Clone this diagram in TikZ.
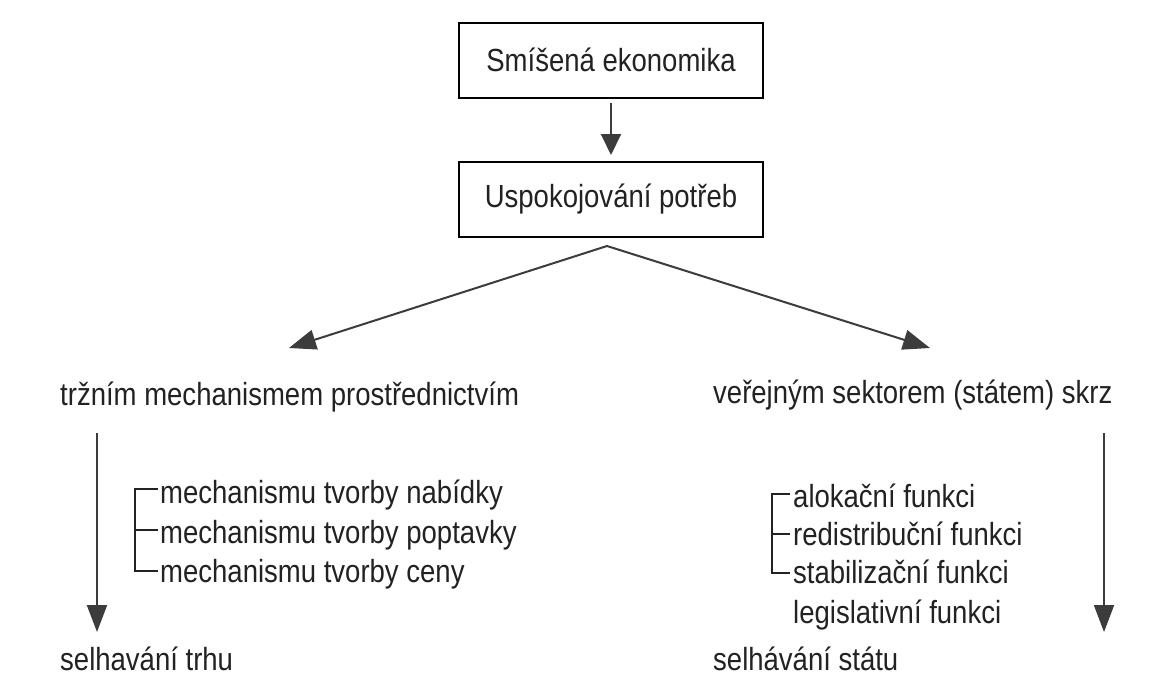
\documentclass[tikz,border=0pt]{standalone}
\usepackage{fontspec}
\setmainfont{Liberation Sans}[FakeStretch=0.86]
\usetikzlibrary{arrows.meta}
\definecolor{ink}{HTML}{222222}
\definecolor{linec}{HTML}{3C3C3C}
\tikzset{
  fnt/.style={font=\fontsize{32}{38}\selectfont},
  txt/.style={fnt, text=ink, inner sep=0pt, anchor=base west},
  box/.style={fnt, text=ink, draw=black, line width=2pt, minimum width=304pt, minimum height=75pt, inner sep=0pt},
  arr/.style={draw=linec, line width=2pt, -{Triangle[length=27pt,width=20pt]}},
  arrs/.style={draw=linec, line width=2pt, -{Triangle[length=21pt,width=20pt]}},
  vee/.style={draw=linec, line width=2pt, {Triangle[length=27pt,width=20pt]}-{Triangle[length=27pt,width=20pt]}},
  brk/.style={draw=ink, line width=1.6pt},
}
\begin{document}
\begin{tikzpicture}[x=1pt,y=-1pt]
\fill[white] (0,0) rectangle (1172,689);
\useasboundingbox (0,0) rectangle (1172,689);

% boxes
\node[box] (box1) at (611,60) {Smíšená ekonomika};
\node[box] (box2) at (611,199.5) {Uspokojování potřeb};
\draw[arrs, shorten <=4pt, shorten >=6pt] (box1) -- (box2);

% branching
\coordinate (apex) at (607,246);
\coordinate (tipL) at (289,348);
\coordinate (tipR) at (930,348);
\draw[vee, line join=miter] (tipL) -- (apex) -- (tipR);

% headings
\node[txt] (hl) at (60,405) {tržním mechanismem prostřednictvím};
\node[txt] (hr) at (713,403) {veřejným sektorem (státem) skrz};

% vertical arrows
\coordinate (vL1) at (97,433);
\coordinate (vL2) at (97,632);
\coordinate (vR1) at (1104,433);
\coordinate (vR2) at (1104,632);
\draw[arr] (vL1) -- (vL2);
\draw[arr] (vR1) -- (vR2);

% left list
\node[txt] (l1) at (160,503) {mechanismu tvorby nabídky};
\node[txt] (l2) at (160,543) {mechanismu tvorby poptavky};
\node[txt] (l3) at (160,582) {mechanismu tvorby ceny};
\draw[brk] ([xshift=-2pt,yshift=14pt]l1.base west) -- ++(-23pt,0) |- ([xshift=-2pt,yshift=11pt]l3.base west);
\draw[brk] ([xshift=-2pt,yshift=13pt]l2.base west) -- ++(-23pt,0);

% right list
\node[txt] (r1) at (793,507) {alokační funkci};
\node[txt] (r2) at (793,545) {redistribuční funkci};
\node[txt] (r3) at (793,583) {stabilizační funkci};
\node[txt] (r4) at (793,623) {legislativní funkci};
\draw[brk] ([xshift=-3pt,yshift=13pt]r1.base west) -- ++(-18pt,0) |- ([xshift=-3pt,yshift=10pt]r3.base west);
\draw[brk] ([xshift=-3pt,yshift=11pt]r2.base west) -- ++(-18pt,0);

% results
\node[txt] (fl) at (60,670) {selhavání trhu};
\node[txt] (fr) at (713,670) {selhávání státu};
\end{tikzpicture}
\end{document}
